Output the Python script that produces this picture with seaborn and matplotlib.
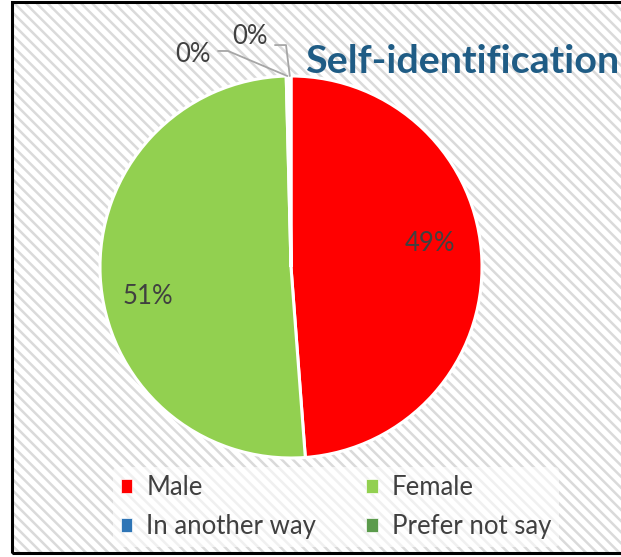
import numpy as np
import matplotlib
matplotlib.use("Agg")
import matplotlib.pyplot as plt
from matplotlib.patches import Rectangle, Patch
import seaborn as sns

# ---- data ----
categories = ["Male", "Female", "In another way", "Prefer not say"]
shares = [49.0, 51.0, 0.2, 0.2]
colors = ["#FF0000", "#92D050", "#2E75B6", "#5B9B4C"]
title = "Self-identification"

sns.set_theme(style="white")
plt.rcParams["font.family"] = ["Lato", "DejaVu Sans"]
plt.rcParams["hatch.linewidth"] = 1.8

W, H = 621, 557
fig = plt.figure(figsize=(W / 100, H / 100), dpi=100)
fig.patch.set_facecolor("white")

# hatched background + frame
bg = Rectangle((12 / W, 0.004), 1.2, 1 - 0.004 - 2 / H, transform=fig.transFigure,
               facecolor="white", edgecolor="#DADADA", hatch="\\\\\\", lw=0, zorder=-5)
fig.patches.append(bg)
frame = Rectangle((12 / W, 0.007), 1.2, 1 - 0.007 - 1.5 / H, transform=fig.transFigure,
                  facecolor="none", edgecolor="black", lw=2.2, zorder=10)
fig.patches.append(frame)

# pie axes
cx, cy, r = 291, 267, 191
ax = fig.add_axes([(cx - r) / W, 1 - (cy + r) / H, 2 * r / W, 2 * r / H])
ax.set_zorder(2)
ax.patch.set_visible(False)
wedges, _ = ax.pie(shares, colors=colors, startangle=90, counterclock=False,
                   wedgeprops=dict(edgecolor="white", linewidth=2.2))
ax.set_xlim(-1, 1)
ax.set_ylim(-1, 1)
ax.set_aspect("equal")
ax.axis("off")

total = sum(shares)
pcts = [f"{round(v / total * 100):d}%" for v in shares]
lab_color = "#404040"
fs = 18.5

# main labels (best-fit style: slightly rotated from wedge middle)
rot = [7.6, 8.8]
dist = [0.74, 0.765]
for w, p, dr, d in zip(wedges[:2], pcts[:2], rot, dist):
    mid = np.deg2rad((w.theta1 + w.theta2) / 2 + dr)
    ax.text(d * np.cos(mid), d * np.sin(mid), p, ha="center", va="center",
            fontsize=fs, color=lab_color)

# small-slice labels with leader lines
offsets = [((-0.513, 1.112), (-0.382, 1.131), (-0.330, 1.131)),
           ((-0.215, 1.205), (-0.084, 1.162), (-0.026, 1.162))]
for w, p, (lp, a, b) in zip(wedges[2:], pcts[2:], offsets):
    mid = np.deg2rad((w.theta1 + w.theta2) / 2)
    ex, ey = np.cos(mid), np.sin(mid)
    ax.plot([a[0], b[0], ex], [a[1], b[1], ey], color="#A6A6A6", lw=1.3,
            clip_on=False, zorder=5)
    ax.text(lp[0], lp[1], p, ha="center", va="center", fontsize=fs,
            color=lab_color, clip_on=False)

# title
fig.text(305 / W, 1 - 73 / H, title, ha="left", va="baseline", fontsize=28.4,
         fontweight="bold", color="#1F5C85", zorder=5)

# legend (row-major order)
order = [0, 2, 1, 3]
labels = [categories[i] for i in order]
handles = [Patch(facecolor=colors[i], edgecolor="white", lw=0.5) for i in order]
leg = fig.legend(handles, labels, ncol=2, loc="center left",
                 bbox_to_anchor=(100 / W, 1 - 507 / H), frameon=True,
                 fontsize=fs, handlelength=0.45, handleheight=0.45,
                 handletextpad=0.55, columnspacing=1.95, labelspacing=0.55,
                 borderpad=0.3, labelcolor=lab_color)
leg.get_frame().set_facecolor("white")
leg.get_frame().set_alpha(0.6)
leg.get_frame().set_edgecolor("none")

fig.savefig("out.png", dpi=100)
